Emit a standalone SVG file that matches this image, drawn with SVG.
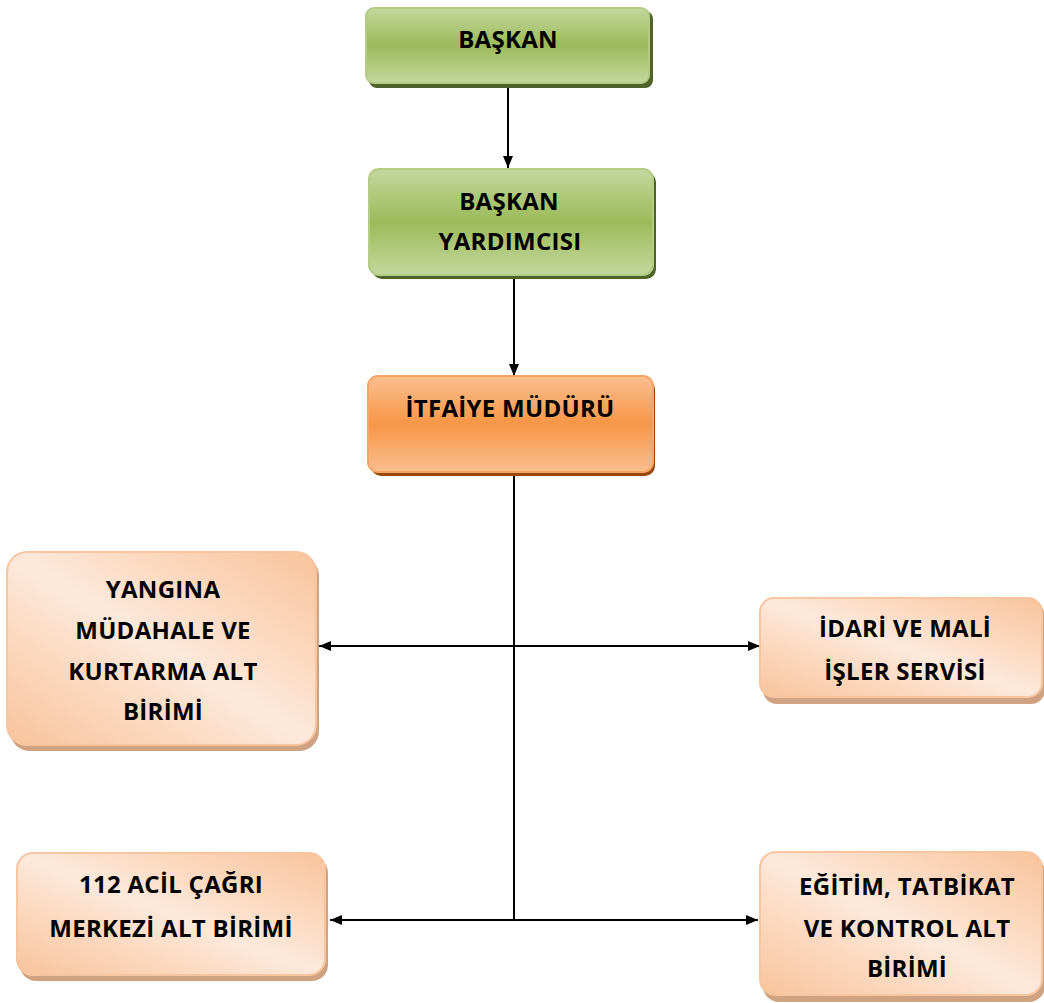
<svg xmlns="http://www.w3.org/2000/svg" width="1044" height="1003" viewBox="0 0 1044 1003">
<defs>
<linearGradient id="gGreen" x1="0" y1="0" x2="0" y2="1">
<stop offset="0" stop-color="#c4d79e"/><stop offset="0.5" stop-color="#9bbb59"/><stop offset="1" stop-color="#c4d79e"/>
</linearGradient>
<linearGradient id="gOrange" x1="0" y1="0" x2="0" y2="1">
<stop offset="0" stop-color="#fabf8f"/><stop offset="0.5" stop-color="#f79646"/><stop offset="1" stop-color="#fabf8f"/>
</linearGradient>
<linearGradient id="gPeach" x1="0" y1="1" x2="1" y2="0">
<stop offset="0" stop-color="#f9c39a"/><stop offset="0.5" stop-color="#fde9db"/><stop offset="1" stop-color="#f9c39a"/>
</linearGradient>
<marker id="arr" viewBox="0 0 12 10" refX="12" refY="5" markerWidth="12" markerHeight="10" markerUnits="userSpaceOnUse" orient="auto-start-reverse">
<path d="M0,0 L12,5 L0,10 Z" fill="#000"/>
</marker>
<style>
text{font-family:"Open Sans","Liberation Sans",sans-serif;font-weight:bold;font-size:24px;letter-spacing:0.3px;fill:#000;text-anchor:middle}
.green{fill:url(#gGreen);stroke:#b5cc86;stroke-width:2}
.greenSh{fill:#4f6228}
.orange{fill:url(#gOrange);stroke:#f6a56a;stroke-width:2}
.orangeSh{fill:#984807}
.peach{fill:url(#gPeach);stroke:#f7c5a0;stroke-width:2}
.peachSh{fill:#cfa282}
.conn{stroke:#000;stroke-width:2;fill:none}
</style>
</defs>
<g id="connectors">
<line class="conn" x1="508" y1="85" x2="508" y2="168" marker-end="url(#arr)"/>
<line class="conn" x1="514" y1="277" x2="514" y2="376" marker-end="url(#arr)"/>
<line class="conn" x1="514" y1="474" x2="514" y2="920"/>
<line class="conn" x1="319" y1="646" x2="760" y2="646" marker-start="url(#arr)" marker-end="url(#arr)"/>
<line class="conn" x1="330" y1="920" x2="758" y2="920" marker-start="url(#arr)" marker-end="url(#arr)"/>
</g>
<g id="baskan">
<rect class="greenSh" x="369" y="11" width="284" height="77" rx="8"/>
<rect class="green" x="366" y="8" width="283" height="75" rx="8"/>
<text x="508" y="48">BAŞKAN</text>
</g>
<g id="baskan-yardimcisi">
<rect class="greenSh" x="372" y="172" width="284" height="107" rx="10"/>
<rect class="green" x="369" y="169" width="284" height="106" rx="10"/>
<text x="509" y="210">BAŞKAN</text>
<text x="510" y="250">YARDIMCISI</text>
</g>
<g id="itfaiye-muduru">
<rect class="orangeSh" x="371" y="379" width="284" height="97" rx="10"/>
<rect class="orange" x="368" y="376" width="285" height="96" rx="10"/>
<text x="510" y="417">İTFAİYE MÜDÜRÜ</text>
</g>
<g id="yangina">
<rect class="peachSh" x="10" y="556" width="309" height="195" rx="20"/>
<rect class="peach" x="7" y="552" width="309" height="193" rx="20"/>
<text x="163" y="598">YANGINA</text>
<text x="163" y="639">MÜDAHALE VE</text>
<text x="163" y="680">KURTARMA ALT</text>
<text x="163" y="720">BİRİMİ</text>
</g>
<g id="idari">
<rect class="peachSh" x="763" y="602" width="282" height="102" rx="14"/>
<rect class="peach" x="760" y="598" width="282" height="99" rx="14"/>
<text x="905" y="637">İDARİ VE MALİ</text>
<text x="905" y="680">İŞLER SERVİSİ</text>
</g>
<g id="acil-cagri">
<rect class="peachSh" x="20" y="857" width="308" height="124" rx="16"/>
<rect class="peach" x="17" y="853" width="308" height="122" rx="16"/>
<text x="171" y="893">112 ACİL ÇAĞRI</text>
<text x="171" y="937">MERKEZİ ALT BİRİMİ</text>
</g>
<g id="egitim">
<rect class="peachSh" x="763" y="856" width="282" height="146" rx="16"/>
<rect class="peach" x="760" y="852" width="282" height="143" rx="16"/>
<text x="907" y="895">EĞİTİM, TATBİKAT</text>
<text x="907" y="937">VE KONTROL ALT</text>
<text x="907" y="977">BİRİMİ</text>
</g>
</svg>
